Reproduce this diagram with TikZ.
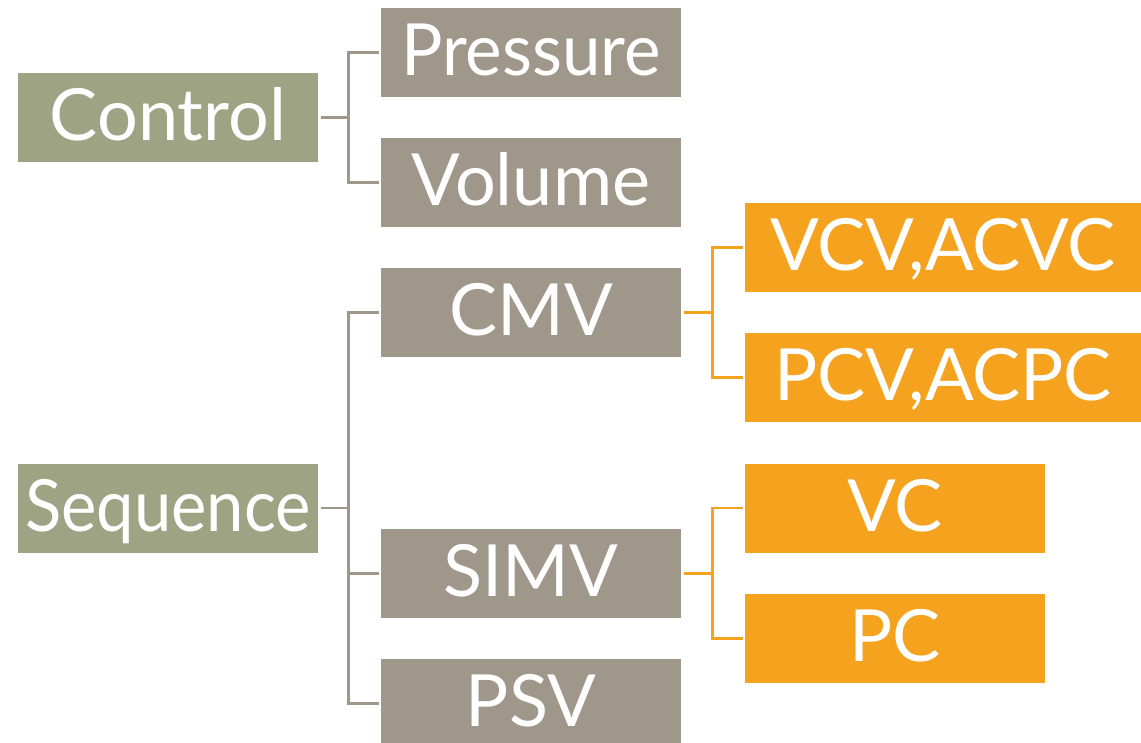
\documentclass[tikz,border=0pt]{standalone}
\usepackage{fontspec}
\setmainfont{Lato}
\usetikzlibrary{calc}

\definecolor{sagebox}{RGB}{157,163,131}
\definecolor{taupebox}{RGB}{160,151,139}
\definecolor{amberbox}{RGB}{245,163,31}

\tikzset{
  tag/.style={fill=#1, text=white, minimum width=300pt, minimum height=89pt,
    inner sep=0pt, outer sep=2.5pt, text height=52pt, text depth=6pt,
    font=\fontsize{72}{80}\selectfont},
  wide/.style={minimum width=396pt},
  taupeline/.style={draw=taupebox, line width=2.5pt},
  amberline/.style={draw=amberbox, line width=2.5pt}
}

\begin{document}
\begin{tikzpicture}[x=1pt,y=1pt,yscale=-1,xscale=1]
  \useasboundingbox (0,0) rectangle (1141,743);
  % first column
  \node [tag=sagebox] (control) at (168,117.5) {Control};
  \node [tag=sagebox] (sequence) at (168,508) {\scalebox{.93}[1]{Sequence}};
  % second column
  \node [tag=taupebox] (pressure) at (531,52.5) {\scalebox{.96}[1]{Pressure}};
  \node [tag=taupebox] (volume) at (531,182.5) {Volume};
  \node [tag=taupebox] (cmv) at (531,312.5) {CMV};
  \node [tag=taupebox] (simv) at (531,573.5) {SIMV};
  \node [tag=taupebox] (psv) at (531,703.5) {PSV};
  % third column
  \node [tag=amberbox,wide] (vcv) at (943,247.5) {VCV,ACVC};
  \node [tag=amberbox,wide] (pcv) at (943,377.5) {PCV,ACPC};
  \node [tag=amberbox] (vc) at (895,508) {VC};
  \node [tag=amberbox] (pc) at (895,638.5) {PC};

  % brackets
  \draw [taupeline] (control.east) -- ++(28,0) |- (pressure.west);
  \draw [taupeline] (control.east) -- ++(28,0) |- (volume.west);
  \draw [taupeline] (sequence.east) -- ++(28,0) |- (cmv.west);
  \draw [taupeline] (sequence.east) -- ++(28,0) |- (simv.west);
  \draw [taupeline] (sequence.east) -- ++(28,0) |- (psv.west);
  \draw [amberline] (cmv.east) -- ++(29,0) |- (vcv.west);
  \draw [amberline] (cmv.east) -- ++(29,0) |- (pcv.west);
  \draw [amberline] (simv.east) -- ++(29,0) |- (vc.west);
  \draw [amberline] (simv.east) -- ++(29,0) |- (pc.west);
\end{tikzpicture}
\end{document}
